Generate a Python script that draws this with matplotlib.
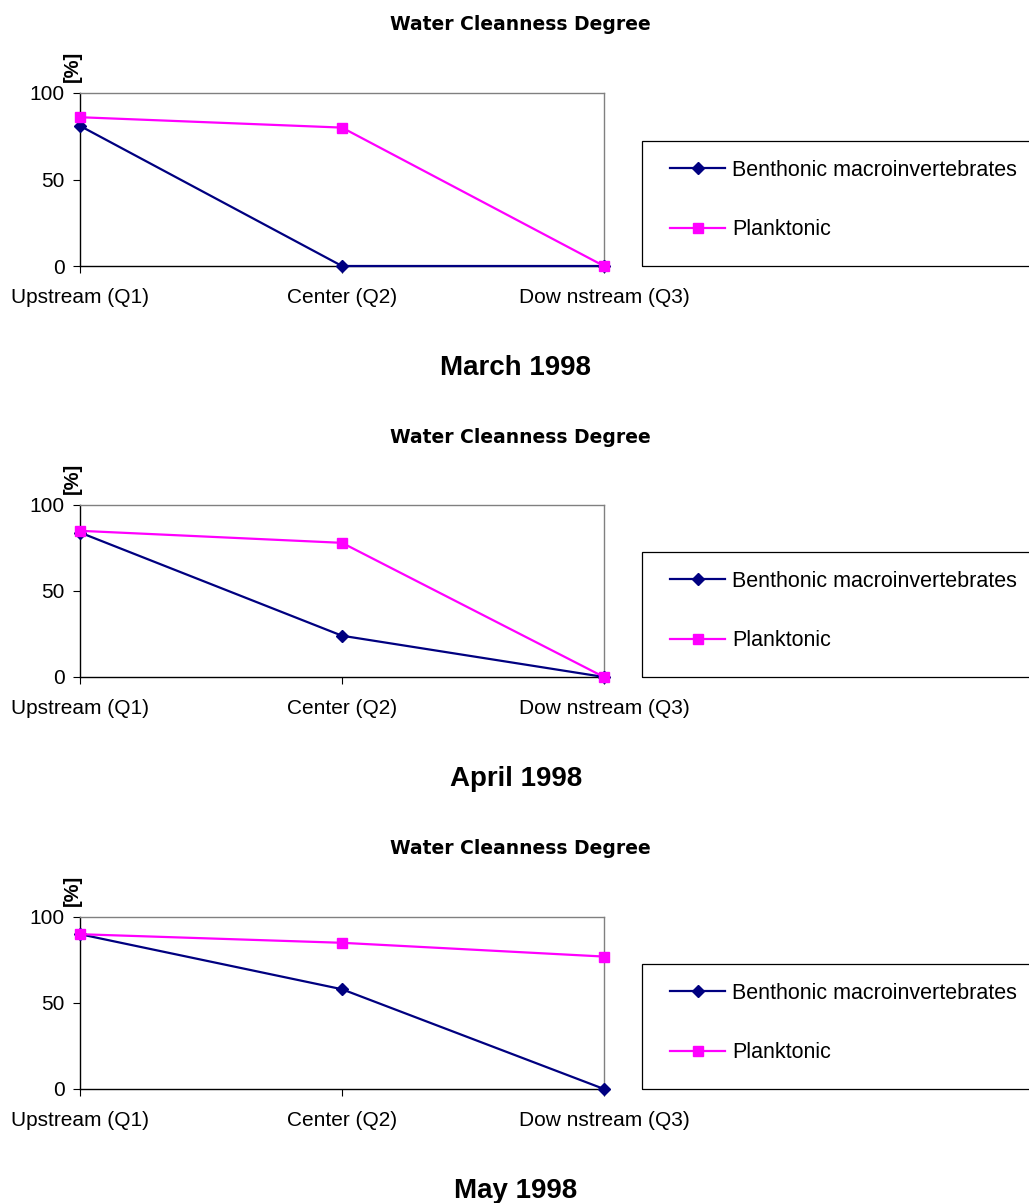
import matplotlib.pyplot as plt
from matplotlib.patches import Rectangle

plt.rcParams['font.family'] = ['Liberation Sans', 'DejaVu Sans']

# sampling sites along the river
sites = ["Upstream (Q1)", "Center (Q2)", "Dow nstream (Q3)"]
months = ["March 1998", "April 1998", "May 1998"]

# water cleanness degree [%] per site
benthonic_march = [81, 0, 0]
planktonic_march = [86, 80, 0]
benthonic_april = [84, 24, 0]
planktonic_april = [85, 78, 0]
benthonic_may = [90, 58, 0]
planktonic_may = [90, 85, 77]

benthonic = [benthonic_march, benthonic_april, benthonic_may]
planktonic = [planktonic_march, planktonic_april, planktonic_may]

W, H = 1029, 1203
fig = plt.figure(figsize=(W / 100, H / 100), dpi=100)

# pixel layout of each panel: axes top, axes bottom
panel_tops = [93, 505, 917]
panel_bottoms = [266, 677, 1089]
ax_left, ax_right = 80, 604

navy = "#000080"
magenta = "#FF00FF"
x = list(range(len(sites)))

for i in range(3):
    top, bot = panel_tops[i], panel_bottoms[i]
    ax = fig.add_axes([ax_left / W, 1 - bot / H, (ax_right - ax_left) / W, (bot - top) / H])

    ax.plot(x, benthonic[i], color=navy, lw=1.6, marker="D", ms=6.5,
            label="Benthonic macroinvertebrates", clip_on=False, zorder=3)
    ax.plot(x, planktonic[i], color=magenta, lw=1.6, marker="s", ms=7.5,
            label="Planktonic", clip_on=False, zorder=3)

    ax.set_xlim(0, 2)
    ax.set_ylim(0, 100)
    ax.set_yticks([0, 50, 100])
    ax.set_xticks(x)
    ax.set_xticklabels(sites)
    ax.tick_params(axis="y", length=5, pad=6, labelsize=15, direction="out")
    ax.tick_params(axis="x", length=5, pad=11, labelsize=15, direction="out")

    for s in ["top", "right"]:
        ax.spines[s].set_color("#808080")
        ax.spines[s].set_linewidth(1.0)
    for s in ["left", "bottom"]:
        ax.spines[s].set_color("black")
        ax.spines[s].set_linewidth(1.0)

    # unit label above the y axis
    fig.text(72 / W, 1 - (top - 27) / H, "[%]", rotation=90, ha="center", va="center",
             fontsize=14.5, fontweight="bold")

    # chart title
    fig.text(520 / W, 1 - (top - 68) / H, "Water Cleanness Degree", ha="center", va="center",
             fontsize=13.5, fontweight="bold", family="DejaVu Sans")

    # month caption
    fig.text(516 / W, 1 - (bot + 102) / H, months[i], ha="center", va="center",
             fontsize=20, fontweight="bold")

    # legend box (runs off the right edge like the original)
    fig.patches.append(Rectangle((642 / W, 1 - bot / H), 420 / W, 125 / H,
                                 transform=fig.transFigure, fill=False,
                                 edgecolor="black", linewidth=0.9))
    handles, labels = ax.get_legend_handles_labels()
    fig.legend(handles, labels, loc="center left",
               bbox_to_anchor=(651 / W, 1 - (bot - 66) / H),
               fontsize=15.5, frameon=False,
               handlelength=2.55, handletextpad=0.33, labelspacing=1.8,
               borderpad=0.9, borderaxespad=0)

fig.savefig("out.png", dpi=100)
